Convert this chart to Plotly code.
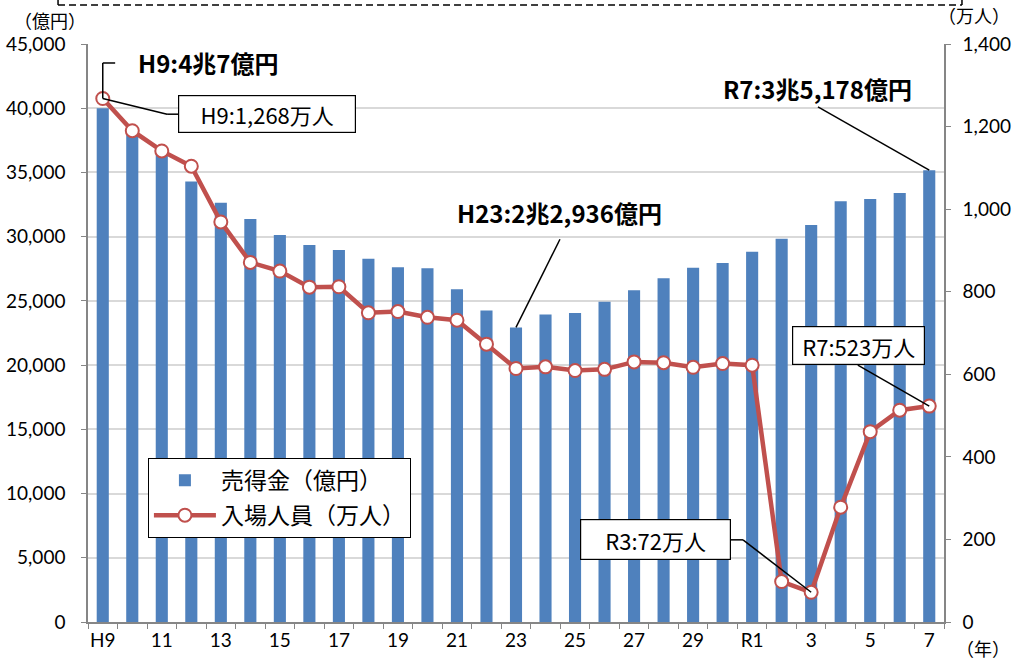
import plotly.graph_objects as go

# ---- data ----
categories = ["H9", "H10", "H11", "H12", "H13", "H14", "H15", "H16", "H17", "H18",
              "H19", "H20", "H21", "H22", "H23", "H24", "H25", "H26", "H27", "H28",
              "H29", "H30", "R1", "R2", "R3", "R4", "R5", "R6", "R7"]
sales = [40007, 38047, 36529, 34303, 32634, 31371, 30129, 29358, 28953, 28288,
         27617, 27534, 25904, 24259, 22936, 23943, 24049, 24935, 25834, 26769,
         27589, 27950, 28817, 29834, 30911, 32754, 32932, 33409, 35178]
attendance = [1268, 1190, 1141, 1104, 969, 871, 850, 811, 812, 749,
              752, 738, 731, 673, 614, 618, 609, 612, 630, 628,
              617, 626, 622, 98, 72, 278, 461, 513, 523]
tick_text = [(c if c in ("H9", "R1") else c[1:]) if i % 2 == 0 else ""
             for i, c in enumerate(categories)]
left_ticks = list(range(0, 45001, 5000))
right_ticks = list(range(0, 1401, 200))

FONT = "Lato, 'Noto Sans CJK JP', sans-serif"
JP = "'Noto Sans CJK JP', Lato, sans-serif"
BLUE = "#4f81bd"
RED = "#c0504d"
AXIS = "#868686"

fig = go.Figure()
fig.add_trace(go.Bar(x=categories, y=sales, name="売得金（億円）",
                     marker=dict(color=BLUE, line=dict(width=0)), width=0.41,
                     yaxis="y", legendgroup="a"))
fig.add_trace(go.Scatter(x=categories, y=attendance, name="入場人員（万人）",
                         mode="lines+markers", yaxis="y2", legendgroup="b",
                         line=dict(color=RED, width=4.5),
                         marker=dict(symbol="circle", size=13, color="white",
                                     line=dict(color=RED, width=2))))

fig.update_layout(
    width=1015, height=660,
    margin=dict(l=88, r=71, t=44, b=38, autoexpand=False),
    paper_bgcolor="white", plot_bgcolor="white",
    font=dict(family=FONT, size=19, color="black"),
    showlegend=True,
    legend=dict(x=0.07, y=0.284, xanchor="left", yanchor="top",
                bordercolor="black", borderwidth=1, bgcolor="white",
                font=dict(family=JP, size=23), tracegroupgap=2,
                itemwidth=62),
    xaxis=dict(type="category", tickmode="array", tickvals=categories,
               ticktext=tick_text, tickson="boundaries", ticks="outside",
               ticklen=5, tickcolor=AXIS, showline=True, linecolor=AXIS,
               linewidth=1.5, showgrid=False, tickfont=dict(size=19),
               tickangle=0, automargin=False, range=[-0.5, 28.5]),
    yaxis=dict(range=[0, 45000], tickvals=left_ticks, tickformat=",d",
               ticks="outside", ticklen=5, tickcolor=AXIS, showline=True,
               linecolor=AXIS, linewidth=1.5, showgrid=True,
               gridcolor="#d9d9d9", gridwidth=1.5, zeroline=False,
               ticklabelstandoff=12, tickfont=dict(size=19), automargin=False),
    yaxis2=dict(range=[0, 1400], tickvals=right_ticks, tickformat=",d",
                overlaying="y", side="right", ticks="outside", ticklen=5,
                tickcolor=AXIS, showline=True, linecolor=AXIS, linewidth=1.5,
                showgrid=False, zeroline=False, ticklabelstandoff=8,
                tickfont=dict(size=19), automargin=False),
    bargap=0.59,
)

shapes = []
def seg(x0, y0, x1, y1, yref):
    shapes.append(dict(type="line", xref="x", yref=yref, x0=x0, y0=y0,
                       x1=x1, y1=y1, line=dict(color="black", width=1.5),
                       layer="above"))

# H9 sales bracket
seg(0, attendance[0], 0, 1354, "y2")
seg(0, 1354, 0.42, 1354, "y2")
# H9 attendance callout
seg(0, attendance[0], 2.18, 1230, "y2")
seg(2.18, 1230, 2.55, 1230, "y2")
# H23 sales callout
seg(14, sales[14], 15.49, 29800, "y")
# R7 sales callout
seg(28, sales[28], 24.23, 40100, "y")
# R7 attendance callout
seg(28, attendance[28], 25.58, 622, "y2")
# R3 attendance callout
seg(24, attendance[24], 21.69, 199, "y2")
seg(21.69, 199, 21.28, 199, "y2")

# top dashed border fragment
shapes.append(dict(type="line", xref="paper", yref="paper", x0=-0.035, x1=1.021,
                   y0=1.0675, y1=1.0675, line=dict(color="black", width=1.5,
                                                   dash="7px,4px")))
shapes.append(dict(type="line", xref="paper", yref="paper", x0=-0.035, x1=-0.035,
                   y0=1.0675, y1=1.077, line=dict(color="black", width=1.5)))
shapes.append(dict(type="line", xref="paper", yref="paper", x0=1.021, x1=1.021,
                   y0=1.0675, y1=1.077, line=dict(color="black", width=1.5)))
fig.update_layout(shapes=shapes)

ann = []
def bold(text, x, y, yref):
    ann.append(dict(text=f"<b>{text}</b>", x=x, y=y, xref="x", yref=yref,
                    showarrow=False, xanchor="center", yanchor="middle",
                    font=dict(family=JP, size=24, color="black")))
def box(text, x, y, yref, xanchor, w, h):
    ann.append(dict(text=text, x=x, y=y, xref="x", yref=yref, showarrow=False,
                    xanchor=xanchor, yanchor="middle", width=w, height=h,
                    bordercolor="black", borderwidth=1.2, borderpad=3,
                    bgcolor="white", font=dict(family=JP, size=22, color="black")))

bold("H9:4兆7億円", 3.56, 1354, "y2")
bold("H23:2兆2,936億円", 15.46, 31920, "y")
bold("R7:3兆5,178億円", 24.21, 41574, "y")
box("H9:1,268万人", 2.55, 1230, "y2", "left", 170, 30)
box("R7:523万人", 25.6, 670, "y2", "center", 125, 31)
box("R3:72万人", 21.28, 199, "y2", "right", 143, 33)

# axis unit labels
ann.append(dict(text="（億円）", xref="paper", yref="paper", x=-0.089, y=1.041,
                xanchor="left", yanchor="middle", showarrow=False,
                font=dict(family=JP, size=18)))
ann.append(dict(text="（万人）", xref="paper", yref="paper", x=1.08, y=1.05,
                xanchor="right", yanchor="middle", showarrow=False,
                font=dict(family=JP, size=18)))
ann.append(dict(text="（年）", xref="paper", yref="paper", x=1.08, y=-0.045,
                xanchor="right", yanchor="middle", showarrow=False,
                font=dict(family=JP, size=18)))
fig.update_layout(annotations=ann)

# remove the default 8px page margin so the 1015x660 figure fills the window
fig.write_html("out.html",
               config={"displayModeBar": False},
               post_script="document.body.style.margin='0';"
                           "document.body.style.overflow='hidden';")
